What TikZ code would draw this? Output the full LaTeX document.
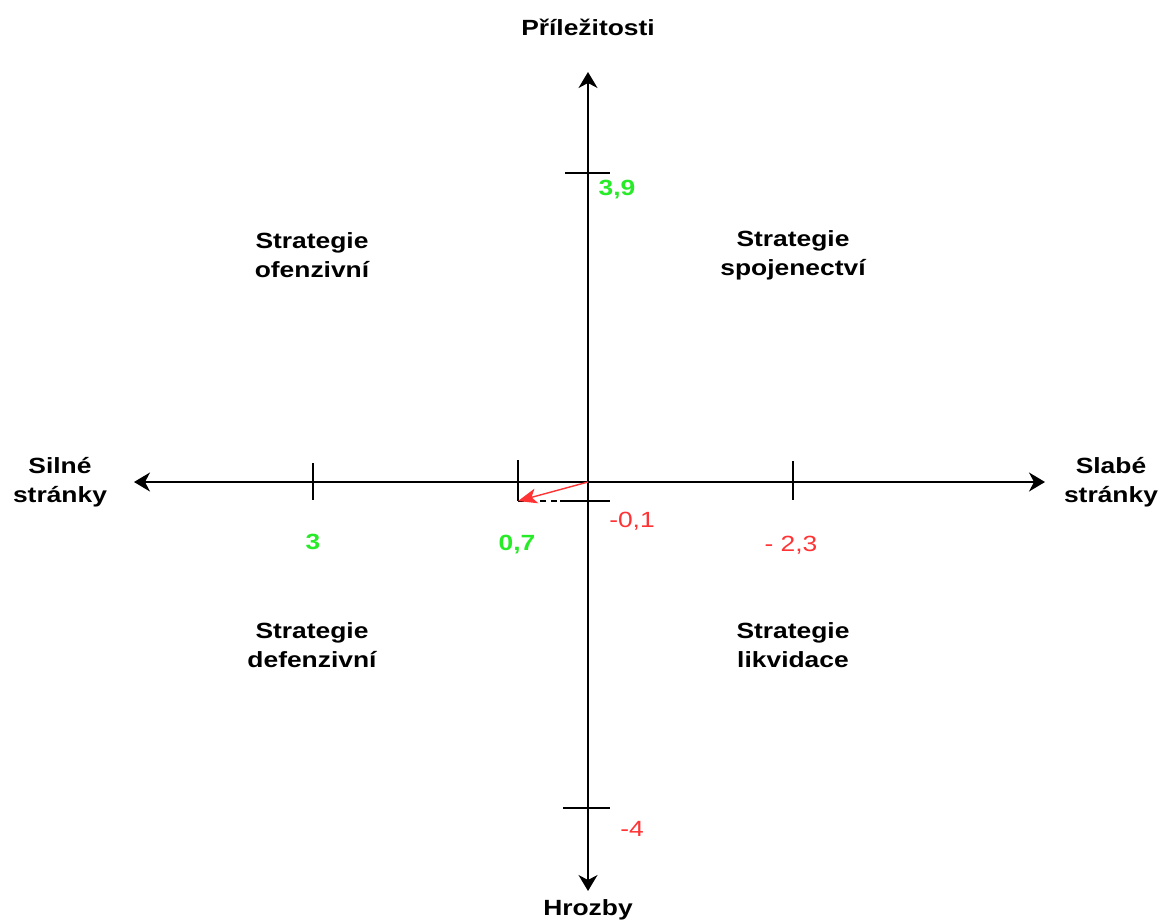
\documentclass[tikz,border=0pt]{standalone}
\usepackage{fontspec}
\setmainfont{Liberation Sans}[FakeStretch=1.2]
\usetikzlibrary{arrows.meta}
\usetikzlibrary{positioning}

\definecolor{lgreen}{RGB}{40,235,40}
\definecolor{lred}{RGB}{255,51,51}

\tikzset{
  axis/.style={line width=1.4pt, -{Stealth[length=16pt,width=19pt,inset=5pt]}},
  tick/.style={line width=1.4pt},
  lbl/.style={align=center, font=\fontsize{22}{29}\selectfont\bfseries},
  posval/.style={font=\fontsize{22}{29}\selectfont\bfseries, text=lgreen},
  negval/.style={font=\fontsize{22}{29}\selectfont, text=lred}
}

\begin{document}
\begin{tikzpicture}[x=1pt, y=-1pt]
% Frame
\useasboundingbox (0,0) rectangle (1165,922);

% Outline
\coordinate (O) at (588,482);
\coordinate (top) at (588,72);
\coordinate (bot) at (588,891);
\coordinate (left) at (134,482);
\coordinate (right) at (1045,482);
\coordinate (p) at (518,501);

% Axes
\draw[axis] (O) -- (top);
\draw[axis] (O) -- (bot);
\draw[axis] (O) -- (left);
\draw[axis] (O) -- (right);

% Ticks
\draw[tick] (565,173) -- (610,173);
\draw[tick] (563,808) -- (610,808);
\draw[tick] (560,501) -- (610,501);
\draw[tick] (313,463) -- (313,500);
\draw[tick] (518,460) -- (p);
\draw[tick] (793,461) -- (793,500);
\draw[line width=1.2pt, dash pattern=on 6pt off 5pt] (p) -- (560,501);

% Result
\draw[lred, line width=1.4pt, -{Stealth[length=19pt,width=15pt,inset=5pt]}] (O) -- (p);

% Axis labels
\node[lbl] (opp) at (588,27) {Příležitosti};
\node[lbl] (thr) at (588,910) {Hrozby};
\node[lbl] (str) at (60,482) {Silné\\stránky};
\node[lbl] (wea) at (1111,482) {Slabé\\stránky};

% Values
\node[posval] (v39) at (617,190) {3,9};
\node[posval] (v3) at (313,542) {3};
\node[posval] (v07) at (517,545) {0,7};
\node[negval] (v01) at (632,521) {-0,1};
\node[negval] (v23) at (791,545) {- 2,3};
\node[negval] (v4) at (632,829) {-4};

% Quadrants
\node[lbl] (ofe) at (312,255) {Strategie\\ofenzivní};
\node[lbl] (spo) at (793,255) {Strategie\\spojenectví};
\node[lbl] (def) at (312,645) {Strategie\\defenzivní};
\node[lbl] (lik) at (793,645) {Strategie\\likvidace};
\end{tikzpicture}
\end{document}
